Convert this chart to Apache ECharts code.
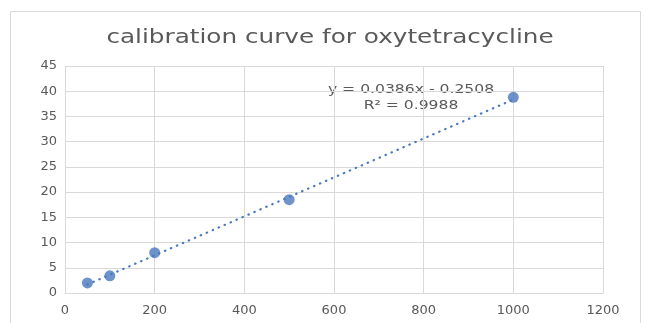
<!DOCTYPE html>
<html>
<head>
<meta charset="utf-8">
<script src="https://cdn.jsdelivr.net/npm/echarts@6/dist/echarts.min.js"></script>
<style>
  html, body { margin: 0; padding: 0; background: #fff; }
  #chart { width: 645px; height: 323px; }
</style>
</head>
<body>
<div id="chart"></div>
<script>
// concentration vs response
const concentrations = [50, 100, 200, 500, 1000];
const responses = [2.0, 3.4, 8.0, 18.5, 38.8];

// linear trendline as reported
const slope = 0.0386;
const intercept = -0.2508;
const rSquared = 0.9988;

const xMin = Math.min(...concentrations);
const xMax = Math.max(...concentrations);
const trend = [
    [xMin, slope * xMin + intercept],
    [xMax, slope * xMax + intercept]
];

const textColor = '#595959';
const gridColor = '#d9d9d9';
const blue = '#4878bd';
const font = '"DejaVu Sans"';

const chart = echarts.init(document.getElementById('chart'));

chart.setOption({
    backgroundColor: '#fff',
    animation: false,
    graphic: [
        {
            type: 'rect',
            shape: { x: 10.5, y: 11.5, width: 630, height: 320 },
            style: { fill: 'none', stroke: gridColor, lineWidth: 1 },
            silent: true
        },
        {
            // title, stretched a bit like the original
            type: 'text',
            x: 330,
            y: 38,
            scaleX: 1.3,
            style: {
                text: 'calibration curve for oxytetracycline',
                align: 'center',
                verticalAlign: 'middle',
                fill: textColor,
                font: '19px ' + font
            }
        },
        {
            type: 'text',
            x: 411,
            y: 98,
            scaleX: 1.2,
            style: {
                text: 'y = ' + slope + 'x - ' + Math.abs(intercept) + '\nR² = ' + rSquared,
                align: 'center',
                verticalAlign: 'middle',
                fill: textColor,
                font: '13px ' + font,
                lineHeight: 16
            }
        }
    ],
    grid: {
        left: 65,
        right: 42,
        top: 66,
        bottom: 30
    },
    xAxis: {
        type: 'value',
        min: 0,
        max: 1200,
        interval: 200,
        axisLine: { show: true, lineStyle: { color: gridColor } },
        axisTick: { show: false },
        splitLine: { show: true, lineStyle: { color: gridColor } },
        axisLabel: {
            color: textColor, fontFamily: font, fontSize: 13, margin: 11,
            formatter: v => String(v)
        }
    },
    yAxis: {
        type: 'value',
        min: 0,
        max: 45,
        interval: 5,
        axisLine: { show: false },
        axisTick: { show: false },
        splitLine: { show: true, lineStyle: { color: gridColor } },
        axisLabel: { color: textColor, fontFamily: font, fontSize: 13, margin: 8 }
    },
    series: [
        {
            type: 'line',
            data: trend,
            symbol: 'none',
            lineStyle: { color: blue, width: 2.2, type: [0.5, 6], cap: 'round' },
            z: 2
        },
        {
            type: 'scatter',
            data: concentrations.map((c, i) => [c, responses[i]]),
            symbol: 'circle',
            symbolSize: 11,
            itemStyle: { color: blue },
            z: 3
        }
    ]
});
</script>
</body>
</html>
